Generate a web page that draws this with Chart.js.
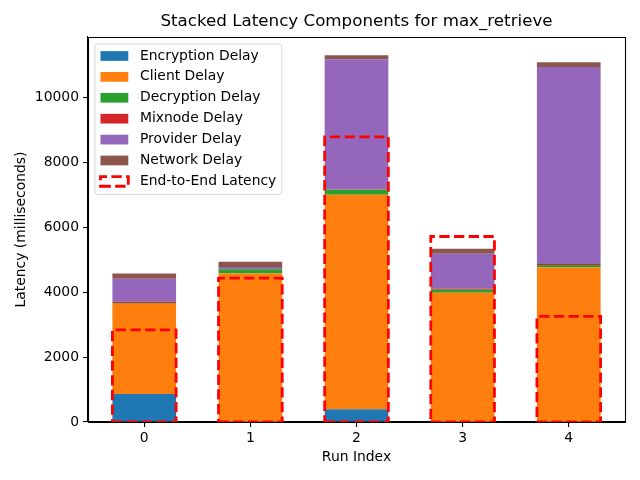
<!DOCTYPE html>
<html><head><meta charset="utf-8">
<script src="https://cdn.jsdelivr.net/npm/chart.js@4/dist/chart.umd.min.js"></script>
<style>html,body{margin:0;padding:0;background:#fff}#wrap{width:640px;height:480px}</style>
</head><body><div id="wrap"><canvas id="c" width="640" height="480"></canvas></div>
<script>
// ---- data ----
const runIndex = [0, 1, 2, 3, 4];
const encryptionDelay = [866, 4, 393, 4, 4];
const clientDelay = [2782, 4571, 6615, 3984, 4756];
const decryptionDelay = [21, 136, 154, 92, 84];
const mixnodeDelay = [40, 8, 10, 31, 31];
const providerDelay = [711, 63, 4009, 1073, 6068];
const networkDelay = [155, 155, 123, 155, 145];
const endToEndLatency = [2838, 4433, 8791, 5719, 3258];
const xTickValues = [0, 1, 2, 3, 4];
const yTickValues = [0, 2000, 4000, 6000, 8000, 10000];
const seriesNames = ['Encryption Delay', 'Client Delay', 'Decryption Delay', 'Mixnode Delay', 'Provider Delay', 'Network Delay'];
const e2eName = 'End-to-End Latency';
const chartTitle = 'Stacked Latency Components for max_retrieve';
const xTitle = 'Run Index';
const yTitle = 'Latency (milliseconds)';

// ---- styles ----
const seriesColors = ['#1f77b4', '#ff7f0e', '#2ca02c', '#d62728', '#9467bd', '#8c564b'];
const FS = 13.9;
const DASH = [10.3, 4.4];
const Y_MAX = 11869;
Chart.defaults.font.family = "'DejaVu Sans', sans-serif";
Chart.defaults.color = '#000';

const toPoints = arr => runIndex.map((x, i) => ({x: x, y: arr[i]}));
const seriesValues = [encryptionDelay, clientDelay, decryptionDelay, mixnodeDelay, providerDelay, networkDelay];

const datasets = seriesValues.map((arr, k) => ({
  label: seriesNames[k],
  data: toPoints(arr),
  backgroundColor: seriesColors[k],
  borderWidth: 0,
  barPercentage: 0.6,
  categoryPercentage: 1.0,
  grouped: false,
  stack: 'runs',
  yAxisID: 'y'
}));
datasets.push({
  label: e2eName,
  data: toPoints(endToEndLatency),
  backgroundColor: 'rgba(0,0,0,0)',
  borderWidth: 0,
  barPercentage: 0.6,
  categoryPercentage: 1.0,
  grouped: false,
  stack: 'e2e',
  yAxisID: 'y2'
});

function alignPx(v) { return Math.floor(v) + 0.5; }

const decorPlugin = {
  id: 'decor',
  afterUpdate(chart) {
    const lg = chart.legend, ca = chart.chartArea;
    lg.left = ca.left + 5.5;
    lg.top = ca.top + 5;
  },
  beforeDraw(chart) {
    const ctx = chart.ctx, lg = chart.legend;
    const pad = lg.options.labels.padding;
    const n = chart.data.datasets.length;
    const itemH = FS;
    ctx.save();
    ctx.font = FS + "px 'DejaVu Sans'";
    let maxW = 0;
    chart.data.datasets.forEach(ds => { maxW = Math.max(maxW, ctx.measureText(ds.label).width); });
    const textX = lg.left + pad + lg.options.labels.boxWidth + FS / 2;
    const firstC = lg.top + pad + itemH / 2;
    const lastC = firstC + (n - 1) * (itemH + pad);
    const x0 = lg.left + pad - 5.6, x1 = textX + maxW + 5.6;
    const y0 = firstC - 12, y1 = lastC + 13;
    ctx.beginPath();
    ctx.roundRect(x0, y0, x1 - x0, y1 - y0, 2.8);
    ctx.fillStyle = 'rgba(255,255,255,0.8)';
    ctx.fill();
    ctx.strokeStyle = 'rgba(204,204,204,0.8)';
    ctx.lineWidth = 1;
    ctx.stroke();
    // handles
    chart.data.datasets.forEach((ds, i) => {
      const cy = firstC + i * (itemH + pad);
      const hx = lg.left + pad, hw = 27.8, hh = 9.7;
      if (i < seriesColors.length) {
        ctx.fillStyle = ds.backgroundColor;
        ctx.fillRect(hx, cy - hh / 2, hw, hh);
      } else {
        ctx.save();
        ctx.strokeStyle = '#ff0000';
        ctx.lineWidth = 2.8;
        ctx.setLineDash(DASH);
        ctx.beginPath();
        ctx.moveTo(hx, cy + hh / 2); ctx.lineTo(hx + hw, cy + hh / 2);
        ctx.lineTo(hx + hw, cy - hh / 2); ctx.lineTo(hx, cy - hh / 2);
        ctx.closePath();
        ctx.stroke();
        ctx.restore();
      }
    });
    ctx.restore();
  },
  afterDatasetsDraw(chart) {
    const ctx = chart.ctx, ca = chart.chartArea;
    const meta = chart.getDatasetMeta(chart.data.datasets.length - 1);
    ctx.save();
    ctx.beginPath();
    ctx.rect(ca.left, ca.top, ca.right - ca.left, ca.bottom - ca.top);
    ctx.clip();
    meta.data.forEach(el => {
      const p = el.getProps(['x', 'y', 'base', 'width'], true);
      const l = p.x - p.width / 2, r = p.x + p.width / 2;
      ctx.strokeStyle = '#ff0000';
      ctx.lineWidth = 2.8;
      ctx.lineJoin = 'miter';
      ctx.setLineDash(DASH);
      ctx.beginPath();
      ctx.moveTo(l, p.base); ctx.lineTo(r, p.base); ctx.lineTo(r, p.y); ctx.lineTo(l, p.y);
      ctx.closePath();
      ctx.stroke();
    });
    ctx.restore();
    // spines
    ctx.save();
    ctx.strokeStyle = '#000';
    ctx.lineWidth = 1.1;
    const L = alignPx(ca.left), R = alignPx(ca.right), T = alignPx(ca.top), B = alignPx(ca.bottom);
    ctx.beginPath();
    ctx.moveTo(L, T); ctx.lineTo(R, T); ctx.lineTo(R, B); ctx.lineTo(L, B); ctx.closePath();
    ctx.stroke();
    ctx.restore();
  }
};

const axisGrid = {display: true, drawOnChartArea: false, drawTicks: true, tickLength: 5, color: '#000', lineWidth: 1.1, offset: false};
const axisBorder = {display: true, color: '#000', width: 1.1};

new Chart(document.getElementById('c'), {
  type: 'bar',
  data: {datasets: datasets},
  options: {
    responsive: false,
    animation: false,
    devicePixelRatio: 1,
    layout: {padding: {left: 0, right: 15, top: 0, bottom: 0}},
    scales: {
      x: {
        type: 'linear', min: -0.53, max: 4.53, stacked: true, offset: false,
        afterBuildTicks: s => { s.ticks = xTickValues.map(v => ({value: v})); },
        grid: axisGrid, border: axisBorder,
        ticks: {color: '#000', font: {size: FS}, padding: 3, maxRotation: 0, autoSkip: false, callback: v => String(v)},
        title: {display: true, text: xTitle, color: '#000', font: {size: FS}, padding: {top: 0, bottom: 14}},
        afterFit: s => { s.height = 58; }
      },
      y: {
        type: 'linear', min: 0, max: Y_MAX, stacked: true,
        afterBuildTicks: s => { s.ticks = yTickValues.map(v => ({value: v})); },
        grid: axisGrid, border: axisBorder,
        ticks: {color: '#000', font: {size: FS}, padding: 4, callback: v => String(v)},
        title: {display: true, text: yTitle, color: '#000', font: {size: FS}, padding: {top: 13, bottom: 0}},
        afterFit: s => { s.width = 88; }
      },
      y2: {
        type: 'linear', position: 'left', min: 0, max: Y_MAX, display: false, stacked: false
      }
    },
    plugins: {
      title: {display: true, text: chartTitle, color: '#000', fullSize: false,
        font: {size: 16.7, weight: 'normal'}, padding: {top: 12, bottom: 5}},
      legend: {
        position: 'chartArea', align: 'start',
        labels: {
          boxWidth: 32.5, boxHeight: 10, padding: 7, color: '#000', font: {size: FS},
          generateLabels: chart => chart.data.datasets.map((ds, i) => ({
            text: ds.label, fillStyle: 'rgba(0,0,0,0)', strokeStyle: 'rgba(0,0,0,0)',
            lineWidth: 0, hidden: false, datasetIndex: i
          }))
        }
      },
      tooltip: {enabled: false}
    }
  },
  plugins: [decorPlugin]
});
</script>
</body></html>
